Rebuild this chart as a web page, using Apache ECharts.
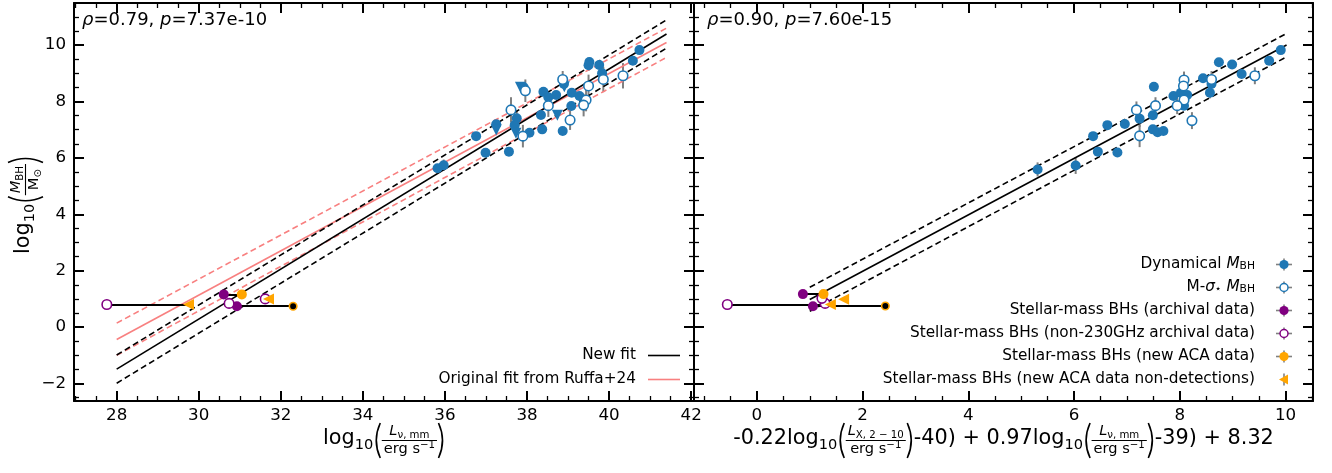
<!DOCTYPE html>
<html><head><meta charset="utf-8">
<script src="https://cdn.jsdelivr.net/npm/echarts@6/dist/echarts.min.js"></script>
<style>html,body{margin:0;padding:0;background:#fff}#c{width:1332px;height:473px}</style>
</head><body><div id="c"></div>
<script>
// ---------------- DATA ----------------
// Left panel: x = log10(L_nu,mm), y = log10(M_BH); [x, y, yerr]
const leftDynamical = [
  [40.74, 9.82, 0.05], [40.58, 9.44, 0.15], [39.52, 9.40, 0.15], [39.50, 9.28, 0.2],
  [39.76, 9.29, 0.08], [39.83, 9.00, 0.1], [38.90, 8.62, 0.1], [39.09, 8.31, 0.1],
  [39.28, 8.19, 0.08], [38.40, 8.34, 0.05], [38.52, 8.15, 0.1], [38.71, 8.23, 0.05],
  [39.08, 7.84, 0.1], [38.34, 7.52, 0.05], [38.37, 7.01, 0.05], [37.92, 8.50, 0.1],
  [37.75, 7.40, 0.3], [37.70, 7.16, 0.15], [38.06, 6.89, 0.12], [37.25, 7.19, 0.1],
  [36.76, 6.77, 0.05], [36.99, 6.18, 0.05], [37.56, 6.22, 0.05], [38.87, 6.95, 0.05],
  [35.97, 5.74, 0.2], [35.82, 5.63, 0.1]
];
const leftDynamicalLimits = [
  [38.91, 8.52, 0.1], [38.74, 7.51, 0.1], [37.84, 8.50, 0.1], [37.73, 6.87, 0.1], [37.25, 6.99, 0.1]
];
const leftMsigma = [
  [40.34, 8.91, 0.45], [39.86, 8.78, 0.45], [38.87, 8.78, 0.3], [39.50, 8.55, 0.4],
  [39.44, 8.05, 0.4], [39.38, 7.87, 0.4], [39.05, 7.34, 0.35], [38.52, 7.85, 0.4],
  [37.96, 8.38, 0.4], [37.61, 7.70, 0.45], [37.90, 6.77, 0.4]
];
const leftArchival = [[30.61, 1.16], [30.93, 0.74]];
const leftNon230 = [[27.76, 0.80], [30.74, 0.84], [31.62, 1.00]];
const leftACA = [[31.05, 1.16]];
const leftACAblack = [[32.30, 0.74]];
const leftACALimits = [[29.75, 0.80], [31.70, 1.00]];
const leftLinks = [
  [[27.76, 0.80], [29.75, 0.80]], [[30.61, 1.16], [31.05, 1.16]], [[30.93, 0.74], [32.30, 0.74]]
];
const leftNewFit = [[28.0, -1.49], [41.4, 10.39]];
const leftNewFitHi = [[28.0, -0.99], [41.4, 10.89]];
const leftNewFitLo = [[28.0, -1.99], [41.4, 9.89]];
const leftRuffaFit = [[28.0, -0.44], [41.4, 10.09]];
const leftRuffaHi = [[28.0, 0.14], [41.4, 10.60]];
const leftRuffaLo = [[28.0, -1.00], [41.4, 9.56]];

// Right panel: x = combined fundamental-plane quantity
const rightDynamical = [
  [9.91, 9.82, 0.05], [9.69, 9.44, 0.15], [8.74, 9.39, 0.08], [8.99, 9.31, 0.15],
  [9.17, 8.97, 0.08], [8.44, 8.82, 0.05], [8.60, 8.62, 0.1], [8.57, 8.31, 0.2],
  [7.51, 8.52, 0.05], [7.88, 8.19, 0.1], [8.02, 8.31, 0.1], [8.14, 8.23, 0.1],
  [8.08, 7.85, 0.1], [7.49, 7.51, 0.05], [7.24, 7.39, 0.3], [6.96, 7.20, 0.05],
  [6.63, 7.16, 0.1], [6.36, 6.77, 0.05], [7.49, 7.01, 0.05], [7.58, 6.91, 0.12],
  [7.69, 6.95, 0.05], [6.45, 6.22, 0.05], [6.82, 6.19, 0.05], [6.03, 5.73, 0.3],
  [5.31, 5.59, 0.25]
];
const rightMsigma = [
  [9.42, 8.91, 0.3], [8.60, 8.78, 0.3], [8.08, 8.76, 0.3], [8.07, 8.55, 0.3],
  [8.08, 8.05, 0.35], [7.95, 7.85, 0.3], [7.54, 7.85, 0.3], [7.18, 7.70, 0.3],
  [7.24, 6.78, 0.4], [8.23, 7.32, 0.3]
];
const rightArchival = [[0.87, 1.17], [1.06, 0.74]];
const rightNon230 = [[-0.56, 0.80], [1.29, 0.84], [1.23, 1.02]];
const rightACA = [[1.26, 1.17]];
const rightACAblack = [[2.43, 0.75]];
const rightACALimits = [[1.39, 0.80], [1.64, 0.99]];
const rightLinks = [
  [[-0.56, 0.80], [1.39, 0.80]], [[0.87, 1.17], [1.26, 1.17]], [[1.06, 0.75], [2.43, 0.75]]
];
const rightFit = [[1.0, 0.98], [10.02, 10.0]];
const rightFitHi = [[1.0, 1.41], [10.02, 10.41]];
const rightFitLo = [[1.0, 0.56], [10.02, 9.58]];

const leftXRange = [26.96, 42.07];
const rightXRange = [-1.19, 10.52];
const yRange = [-2.62, 11.49];
const tickStep = 2;

const leftStats = ['0.79', '7.37e-10'];
const rightStats = ['0.90', '7.60e-15'];
const leftLegendLabels = ['New fit', 'Original fit from Ruffa+24'];
const rightLegendLabels = [
  '{r|Dynamical }{i|M}{s|BH}',
  '{r|M-}{i|σ}{s|⋆}{r| }{i|M}{s|BH}',
  'Stellar-mass BHs (archival data)',
  'Stellar-mass BHs (non-230GHz archival data)',
  'Stellar-mass BHs (new ACA data)',
  'Stellar-mass BHs (new ACA data non-detections)'
];

// ---------------- STYLE ----------------
const FONT = 'DejaVu Sans';
const BLUE = '#1f77b4', PURPLE = '#800080', ORANGE = '#ffa500', GREY = '#808080', PINK = '#f88080';
const TICK_FS = 16.7, LABEL_FS = 20.8, LEG_FS = 15.3, ANN_FS = 18;

const G0 = {left: 74, top: 3, right: 1332 - 694, bottom: 473 - 401};
const G1 = {left: 694, top: 3, right: 1332 - 1313, bottom: 473 - 401};

function fmt(v) {
  const r = Math.round(v);
  if (Math.abs(v - r) > 1e-6 || r % 2 !== 0) return '';
  return r < 0 ? '\u2212' + (-r) : String(r);
}
function axis(kind, grid, pos, range, labels) {
  return {
    type: 'value', gridIndex: grid, position: pos, min: range[0], max: range[1],
    minInterval: tickStep, maxInterval: tickStep, splitNumber: 7,
    axisLine: {show: true, onZero: false, lineStyle: {color: '#000', width: 2}},
    axisTick: {show: true, inside: true, length: 10, lineStyle: {color: '#000', width: 2}},
    minorTick: {show: true, splitNumber: 4, length: 5, lineStyle: {color: '#000', width: 1.3}},
    splitLine: {show: false}, minorSplitLine: {show: false},
    axisLabel: {show: labels, interval: 0, showMinLabel: true, showMaxLabel: true,
      color: '#000', fontFamily: FONT, fontSize: TICK_FS, margin: kind === 'x' ? 6 : 8, formatter: fmt},
    axisPointer: {show: false}
  };
}

function errSeries(data, xi, yi) {
  return {type: 'custom', xAxisIndex: xi, yAxisIndex: yi, z: 2, silent: true, clip: false,
    data: data, encode: {x: 0, y: 1},
    renderItem: function (p, api) {
      const x = api.value(0), y = api.value(1), e = api.value(2);
      const a = api.coord([x, y + e]), b = api.coord([x, y - e]);
      return {type: 'line', shape: {x1: a[0], y1: a[1], x2: b[0], y2: b[1]},
        style: {stroke: GREY, lineWidth: 2}};
    }};
}
function scat(data, xi, yi, o) {
  return {type: 'scatter', xAxisIndex: xi, yAxisIndex: yi, silent: true, z: o.z || 5,
    data: data.map(d => [d[0], d[1]]), symbol: o.symbol || 'circle', symbolSize: o.size || 10,
    symbolRotate: o.rot || 0,
    itemStyle: {color: o.fill, borderColor: o.stroke || o.fill, borderWidth: o.bw || 0, opacity: 1},
    emphasis: {disabled: true}};
}
function fitLine(data, xi, yi, color, dashed) {
  return {type: 'line', xAxisIndex: xi, yAxisIndex: yi, data: data, silent: true, z: 3,
    symbol: 'none', showSymbol: false,
    lineStyle: {color: color, width: 1.6, type: dashed ? [6, 3.5] : 'solid'}, emphasis: {disabled: true}};
}
function links(data, xi, yi) {
  return {type: 'lines', coordinateSystem: 'cartesian2d', xAxisIndex: xi, yAxisIndex: yi, z: 4, silent: true,
    data: data.map(l => ({coords: l})), lineStyle: {color: '#000', width: 2, opacity: 1, curveness: 0}};
}
function panelSeries(xi, yi, d) {
  return [
    errSeries(d.dyn, xi, yi), errSeries(d.msig, xi, yi),
    ...(d.lim ? [errSeries(d.lim, xi, yi)] : []),
    ...d.fits,
    links(d.links, xi, yi),
    scat(d.dyn, xi, yi, {fill: BLUE, size: 10}),
    ...(d.lim ? [scat(d.lim, xi, yi, {fill: BLUE, symbol: 'triangle', rot: 180, size: 11})] : []),
    scat(d.msig, xi, yi, {fill: '#fff', stroke: BLUE, bw: 1.6, size: 9.5}),
    scat(d.arch, xi, yi, {fill: PURPLE, size: 10}),
    scat(d.non, xi, yi, {fill: '#fff', stroke: PURPLE, bw: 1.6, size: 9.5}),
    scat(d.aca, xi, yi, {fill: ORANGE, size: 10}),
    scat(d.acaB, xi, yi, {fill: '#000', stroke: ORANGE, bw: 1.6, size: 7.5}),
    scat(d.acaL, xi, yi, {fill: ORANGE, symbol: 'triangle', rot: 90, size: 11})
  ];
}

// --------- math-like axis labels (graphic) ---------
const mctx = document.createElement('canvas').getContext('2d');
function mw(s, size, it) { mctx.font = (it ? 'italic ' : '') + size + 'px "' + FONT + '"'; return mctx.measureText(s).width; }
function txt(s, x, base, size, it) {
  return {type: 'text', x: x, y: base - 0.346 * size, silent: true, z: 50,
    style: {text: s, fontSize: size, fontFamily: FONT, fontStyle: it ? 'italic' : 'normal', fill: '#000',
      align: 'left', verticalAlign: 'middle', textAlign: 'left', textVerticalAlign: 'middle'}};
}
function gline(x1, y1, x2, y2, w, c) {
  return {type: 'line', silent: true, z: 50, shape: {x1, y1, x2, y2}, style: {stroke: c || '#000', lineWidth: w}};
}
function bez(x1, y1, cx, cy, x2, y2) {
  return {type: 'bezierCurve', silent: true, z: 50, shape: {x1, y1, x2, y2, cpx1: cx, cpy1: cy},
    style: {stroke: '#000', lineWidth: 1.6, fill: null}};
}
const S1 = 14.6, S2 = 10.2;
function runW(run) { return run.reduce((a, r) => a + mw(r.s, r.size, r.it), 0); }
function runEls(run, x, base) {
  const els = [];
  for (const r of run) { els.push(txt(r.s, x, base + (r.dy || 0), r.size, r.it)); x += mw(r.s, r.size, r.it); }
  return els;
}
function layoutMath(atoms, x0, base) {
  let x = x0; const els = [];
  const bar = base - 5.5;
  for (const a of atoms) {
    if (a.k === 't') {
      els.push(txt(a.s, x, base + (a.dy || 0), a.size, a.it)); x += mw(a.s, a.size, a.it) + (a.after || 0);
    } else if (a.k === 'lp' || a.k === 'rp') {
      const top = bar - 17.5, bot = bar + 17.5, mid = bar;
      if (a.k === 'lp') els.push(bez(x + 6.5, top, x - 1.5, mid, x + 6.5, bot));
      else els.push(bez(x + 1.5, top, x + 9.5, mid, x + 1.5, bot));
      x += 8;
    } else if (a.k === 'frac') {
      const nw = runW(a.num), dw = runW(a.den), w = Math.max(nw, dw) + 4;
      els.push(gline(x, bar, x + w, bar, 1.1));
      els.push(...runEls(a.num, x + (w - nw) / 2, bar - 4.5));
      els.push(...runEls(a.den, x + (w - dw) / 2, bar + 14));
      x += w;
    }
  }
  return {els, width: x - x0};
}
function centeredMath(atoms, cx, base) {
  const w = layoutMath(atoms, 0, base).width;
  return layoutMath(atoms, cx - w / 2, base).els;
}
const LOG = [{k: 't', s: 'log', size: LABEL_FS}, {k: 't', s: '10', size: S1, dy: 4.5, after: 0.5}];
const fracLmm = {k: 'frac', num: [{s: 'L', size: S1, it: true}, {s: 'ν, mm', size: S2, dy: 2.5}],
  den: [{s: 'erg s', size: S1}, {s: '−1', size: S2, dy: -5.5}]};
const fracLX = {k: 'frac', num: [{s: 'L', size: S1, it: true}, {s: 'X, 2 − 10', size: S2, dy: 2.5}],
  den: [{s: 'erg s', size: S1}, {s: '−1', size: S2, dy: -5.5}]};
const fracM = {k: 'frac', num: [{s: 'M', size: S1, it: true}, {s: 'BH', size: S2, dy: 2.5}],
  den: [{s: 'M', size: S1}, {s: '⊙', size: S2, dy: 2.5}]};

const xLabelLeft = [...LOG, {k: 'lp'}, fracLmm, {k: 'rp'}];
const xLabelRight = [{k: 't', s: '-0.22log', size: LABEL_FS}, LOG[1], {k: 'lp'}, fracLX, {k: 'rp'},
  {k: 't', s: '-40) + 0.97log', size: LABEL_FS}, LOG[1], {k: 'lp'}, fracLmm, {k: 'rp'},
  {k: 't', s: '-39) + 8.32', size: LABEL_FS}];
const yLabel = [...LOG, {k: 'lp'}, fracM, {k: 'rp'}];

const graphics = [];
graphics.push(...centeredMath(xLabelLeft, 384, 446));
graphics.push(...centeredMath(xLabelRight, 1003.5, 446));
graphics.push({type: 'group', x: 31, y: 205, rotation: Math.PI / 2, silent: true, z: 50,
  children: centeredMath(yLabel, 0, 0)});

// annotations
function richText(s, x, y, size, align) {
  return {type: 'text', x, y, silent: true, z: 50,
    style: {text: s, fontSize: size, fontFamily: FONT, fill: '#000',
      align: align, verticalAlign: 'middle', textAlign: align, textVerticalAlign: 'middle',
      rich: {
        r: {fontSize: size, fontFamily: FONT, fill: '#000'},
        i: {fontSize: size, fontFamily: FONT, fontStyle: 'italic', fill: '#000'},
        s: {fontSize: size * 0.7, fontFamily: FONT, fill: '#000', verticalAlign: 'bottom'}
      }}};
}
graphics.push(richText('{i|ρ}{r|=' + leftStats[0] + ', }{i|p}{r|=' + leftStats[1] + '}', 82, 27 - 0.346 * ANN_FS, ANN_FS, 'left'));
graphics.push(richText('{i|ρ}{r|=' + rightStats[0] + ', }{i|p}{r|=' + rightStats[1] + '}', 707, 27 - 0.346 * ANN_FS, ANN_FS, 'left'));

// left legend
[[leftLegendLabels[0], '#000', 355.5], [leftLegendLabels[1], PINK, 379.5]].forEach(e => {
  graphics.push(richText('{r|' + e[0] + '}', 636, e[2], LEG_FS, 'right'));
  graphics.push(gline(648, e[2], 680, e[2], 1.6, e[1]));
});
// right legend
const legMarkers = [
  {fill: BLUE}, {fill: '#fff', stroke: BLUE}, {fill: PURPLE}, {fill: '#fff', stroke: PURPLE},
  {fill: ORANGE}, {tri: true}
];
rightLegendLabels.forEach((lab, i) => {
  const cy = 264.5 + 23 * i, cx = 1284;
  graphics.push(richText(lab.indexOf('{') === 0 ? lab : '{r|' + lab + '}', 1255, cy, LEG_FS, 'right'));
  const m = legMarkers[i];
  graphics.push(gline(cx, cy - 6, cx, cy + 6, 1.6, GREY));
  if (!m.tri) {
    graphics.push(gline(cx - 8, cy, cx + 8, cy, 1.6, GREY));
    graphics.push({type: 'circle', silent: true, z: 51, shape: {cx, cy, r: m.stroke ? 4 : 4.6},
      style: {fill: m.fill, stroke: m.stroke || null, lineWidth: 1.5}});
  } else {
    graphics.push({type: 'polygon', silent: true, z: 51,
      shape: {points: [[cx - 5, cy], [cx + 4, cy - 5], [cx + 4, cy + 5]]}, style: {fill: ORANGE}});
  }
});

// ---------------- CHART ----------------
const chart = echarts.init(document.getElementById('c'), null, {renderer: 'canvas'});
chart.setOption({
  animation: false,
  backgroundColor: '#fff',
  grid: [Object.assign({outerBoundsMode: 'none', containLabel: false}, G0),
         Object.assign({outerBoundsMode: 'none', containLabel: false}, G1)],
  xAxis: [axis('x', 0, 'bottom', leftXRange, true), axis('x', 0, 'top', leftXRange, false),
          axis('x', 1, 'bottom', rightXRange, true), axis('x', 1, 'top', rightXRange, false)],
  yAxis: [axis('y', 0, 'left', yRange, true), axis('y', 0, 'right', yRange, false),
          axis('y', 1, 'left', yRange, false), axis('y', 1, 'right', yRange, false)],
  series: [
    ...panelSeries(0, 0, {dyn: leftDynamical, msig: leftMsigma, lim: leftDynamicalLimits,
      arch: leftArchival, non: leftNon230, aca: leftACA, acaB: leftACAblack, acaL: leftACALimits,
      links: leftLinks,
      fits: [fitLine(leftRuffaFit, 0, 0, PINK, false), fitLine(leftRuffaHi, 0, 0, PINK, true),
             fitLine(leftRuffaLo, 0, 0, PINK, true), fitLine(leftNewFit, 0, 0, '#000', false),
             fitLine(leftNewFitHi, 0, 0, '#000', true), fitLine(leftNewFitLo, 0, 0, '#000', true)]}),
    ...panelSeries(2, 2, {dyn: rightDynamical, msig: rightMsigma, lim: null,
      arch: rightArchival, non: rightNon230, aca: rightACA, acaB: rightACAblack, acaL: rightACALimits,
      links: rightLinks,
      fits: [fitLine(rightFit, 2, 2, '#000', false), fitLine(rightFitHi, 2, 2, '#000', true),
             fitLine(rightFitLo, 2, 2, '#000', true)]})
  ],
  graphic: graphics
});
</script></body></html>
